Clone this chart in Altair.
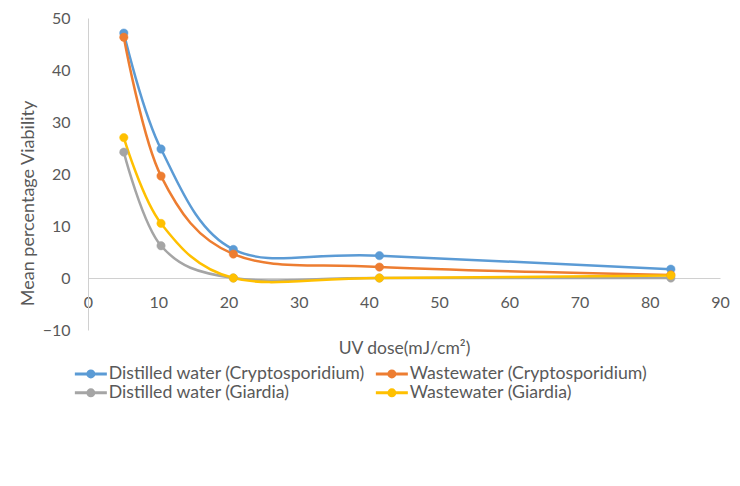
import altair as alt
import pandas as pd

# ---- data ----
dose = [5.1, 10.4, 20.7, 41.5, 83.0]
series_names = [
    "Distilled water (Cryptosporidium)",
    "Wastewater (Cryptosporidium)",
    "Distilled water (Giardia)",
    "Wastewater (Giardia)",
]
dw_crypto = [47.1, 24.8, 5.5, 4.3, 1.7]
ww_crypto = [46.3, 19.6, 4.6, 2.1, 0.6]
dw_giardia = [24.2, 6.2, 0.0, 0.0, 0.0]
ww_giardia = [27.0, 10.5, 0.0, 0.0, 0.5]
colors = ["#5b9bd5", "#ed7d31", "#a5a5a5", "#ffc000"]
x_ticks = [0, 10, 20, 30, 40, 50, 60, 70, 80, 90]
y_ticks = [-10, 0, 10, 20, 30, 40, 50]

rows = []
for name, vals in zip(series_names, [dw_crypto, ww_crypto, dw_giardia, ww_giardia]):
    for d, v in zip(dose, vals):
        rows.append({"dose": d, "viability": v, "series": name})
df = pd.DataFrame(rows)

font = "Lato"
text_color = "#595959"
axis_color = "#d0d0d0"

legend = alt.Legend(
    orient="none",
    direction="horizontal",
    legendX=-6,
    legendY=347,
    columns=2,
    columnPadding=3,
    rowPadding=0,
    symbolType="M-3.2,0L3.2,0M0.6,0A0.6,0.6,0,1,1,-0.6,0A0.6,0.6,0,1,1,0.6,0Z",
    symbolSize=100,
    symbolStrokeWidth=3,
    labelOffset=9,
    labelFont=font,
    labelFontSize=17.7,
    labelColor=text_color,
    labelLimit=400,
    title=None,
    padding=0,
)

color_scale = alt.Scale(domain=series_names, range=colors)

x_enc = alt.X(
    "dose:Q",
    scale=alt.Scale(domain=[0, 90], nice=False, zero=False),
    axis=alt.Axis(
        values=x_ticks,
        title="UV dose(mJ/cm²)",
        offset=-52,
        domainColor=axis_color,
        domainWidth=1,
        ticks=False,
        grid=False,
        labelFlush=False,
        labelFont=font,
        labelFontSize=16,
        labelColor=text_color,
        labelPadding=24,
        labelBaseline="middle",
        titleFont=font,
        titleFontSize=17.5,
        titleFontWeight="normal",
        titleColor=text_color,
        titleY=75,
        titleBaseline="alphabetic",
    ),
)
y_enc = alt.Y(
    "viability:Q",
    scale=alt.Scale(domain=[-10, 50], nice=False, zero=False),
    axis=alt.Axis(
        values=y_ticks,
        title="Mean percentage Viability",
        domainColor=axis_color,
        domainWidth=1,
        ticks=False,
        grid=False,
        labelFlush=False,
        labelFont=font,
        labelFontSize=16,
        labelColor=text_color,
        labelPadding=18,
        titleFont=font,
        titleFontSize=18,
        titleFontWeight="normal",
        titleColor=text_color,
        titleAngle=270,
        titleX=-54.5,
        titleY=185,
        titleAlign="center",
        titleBaseline="alphabetic",
    ),
)

lines = alt.Chart(df).mark_line(interpolate="cardinal", strokeWidth=2.5).encode(
    x=x_enc,
    y=y_enc,
    stroke=alt.Stroke("series:N", scale=color_scale, legend=legend),
)

points = alt.Chart(df).mark_point(filled=True, size=70, opacity=1, strokeWidth=0.5).encode(
    x=x_enc,
    y=y_enc,
    fill=alt.Fill("series:N", scale=color_scale, legend=legend),
    stroke=alt.Stroke("series:N", scale=color_scale, legend=legend),
)

chart = alt.layer(lines, points).properties(
    width=632,
    height=312,
    padding={"left": 80, "top": 10, "right": 12, "bottom": 148},
    autosize=alt.AutoSizeParams(type="none"),
    background="white",
).configure_view(stroke=None)

chart.save("out.html", embed_options={"renderer": "svg", "actions": False})
